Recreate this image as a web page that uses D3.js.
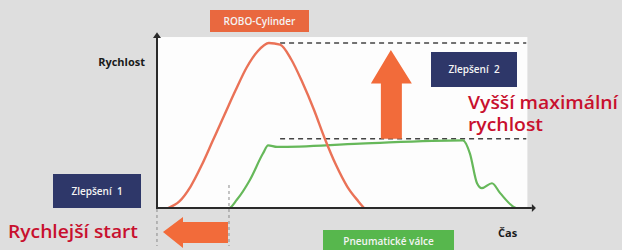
<!DOCTYPE html>
<html>
<head>
<meta charset="utf-8">
<script src="https://cdn.jsdelivr.net/npm/d3@7"></script>
<style>
  html, body { margin: 0; padding: 0; background: #dedede; }
  svg { display: block; }
</style>
</head>
<body>
<script>
// ROBO-Cylinder vs. pneumatic cylinder speed profile
const roboTime  = [3, 6, 9, 12, 15, 18, 21, 24, 27, 30, 33, 36, 39, 42, 45, 48, 51, 54, 55.5];
const roboSpeed = [0, 4, 13, 26, 41, 56, 71, 85, 95, 100, 99, 90, 76, 60, 42, 26, 13, 4, 0];

const pneuTime  = [2, 19.3, 21.4, 24.9, 28.4, 29.8, 32.2, 54.4, 82, 83.9, 85.8, 87.1, 89.8, 92, 95.4, 96.2];
const pneuSpeed = [0, 0, 5, 17, 33, 38, 37, 39, 41, 33, 15, 12, 15, 9, 1, 0];

const levels = [100, 42];           // dashed max-speed levels
const startTimes = [0.8, 19.3];     // start times compared by the left arrow

const width = 622;
const height = 250;

const svg = d3.select('body')
  .append('svg')
  .attr('width', width)
  .attr('height', height);

// scales
const x = d3.scaleLinear().domain([0, 100]).range([157, 530]);
const y = d3.scaleLinear().domain([0, 100]).range([208, 43]);

// white plot area
svg.append('rect')
  .attr('x', x(0))
  .attr('y', y(103.6))
  .attr('width', x(99.3) - x(0))
  .attr('height', y(0) - y(103.6))
  .attr('fill', '#fdfdfd');

// vertical dashed guides for start times
svg.selectAll('.guide')
  .data(startTimes)
  .enter()
  .append('line')
  .attr('x1', d => x(d) - (d < 1 ? 3 : 0))
  .attr('x2', d => x(d) - (d < 1 ? 3 : 0))
  .attr('y1', 185)
  .attr('y2', 246)
  .attr('stroke', '#8a8a8a')
  .attr('stroke-width', 1)
  .attr('stroke-dasharray', '3,3');

// dashed max-speed levels
svg.selectAll('.level')
  .data(levels)
  .enter()
  .append('line')
  .attr('x1', x(33))
  .attr('x2', x(99))
  .attr('y1', d => y(d))
  .attr('y2', d => y(d))
  .attr('stroke', '#444')
  .attr('stroke-width', 1.5)
  .attr('stroke-dasharray', '5,4');

// up arrow (higher max speed)
const ax = x(62.7);
const upArrow = [
  [ax, y(95.8)],
  [ax + 21, y(75.5)],
  [ax + 11, y(75.5)],
  [ax + 11, y(42)],
  [ax - 10, y(42)],
  [ax - 10, y(75.5)],
  [ax - 20, y(75.5)]
];
svg.append('path')
  .attr('d', d3.line()(upArrow) + 'Z')
  .attr('fill', '#f26b3a');

// left arrow (faster start)
const tip = x(startTimes[0]) + 3;
const tail = x(startTimes[1]) - 1;
const ay = 232;
const leftArrow = [
  [tip, ay],
  [183, ay - 15],
  [183, ay - 10],
  [tail, ay - 10],
  [tail, ay + 11],
  [183, ay + 11],
  [183, ay + 16]
];
svg.append('path')
  .attr('d', d3.line()(leftArrow) + 'Z')
  .attr('fill', '#f26b3a');

// curves
const line = d3.line()
  .x(d => x(d[0]))
  .y(d => y(d[1]))
  .curve(d3.curveMonotoneX);

svg.append('path')
  .datum(pneuTime.map((t, i) => [t, pneuSpeed[i]]))
  .attr('d', line)
  .attr('fill', 'none')
  .attr('stroke', '#66b85a')
  .attr('stroke-width', 2.2);

svg.append('path')
  .datum(roboTime.map((t, i) => [t, roboSpeed[i]]))
  .attr('d', line)
  .attr('fill', 'none')
  .attr('stroke', '#ea7257')
  .attr('stroke-width', 2.4);

// axes with arrowheads
svg.append('line')
  .attr('x1', x(0)).attr('x2', x(0))
  .attr('y1', y(0) + 1).attr('y2', y(103))
  .attr('stroke', '#2a2a2a')
  .attr('stroke-width', 2);
svg.append('path')
  .attr('d', `M${x(0) - 4},${y(103)} L${x(0)},${y(106.5)} L${x(0) + 4},${y(103)} Z`)
  .attr('fill', '#2a2a2a');

svg.append('line')
  .attr('x1', x(0) - 1).attr('x2', x(100.5))
  .attr('y1', y(0)).attr('y2', y(0))
  .attr('stroke', '#2a2a2a')
  .attr('stroke-width', 2);
svg.append('path')
  .attr('d', `M${x(100.5)},${y(0) - 4} L${x(101.6)},${y(0)} L${x(100.5)},${y(0) + 4} Z`)
  .attr('fill', '#2a2a2a');

// axis titles
svg.append('text')
  .attr('x', 145)
  .attr('y', 66)
  .attr('text-anchor', 'end')
  .attr('font-family', 'Open Sans')
  .attr('font-weight', 'bold')
  .attr('font-size', '11px')
  .attr('fill', '#1a1a1a')
  .text('Rychlost');

svg.append('text')
  .attr('x', 498)
  .attr('y', 237)
  .attr('font-family', 'Open Sans')
  .attr('font-weight', 'bold')
  .attr('font-size', '11px')
  .attr('fill', '#1a1a1a')
  .text('Čas');

// labelled boxes
const boxes = [
  { label: 'ROBO-Cylinder', x: 210, y: 10, w: 99, h: 22, fill: '#e9683f' },
  { label: 'Zlepšení  2', x: 431, y: 52, w: 86, h: 35, fill: '#2e3769' },
  { label: 'Zlepšení  1', x: 53, y: 174, w: 88, h: 34, fill: '#2e3769' },
  { label: 'Pneumatické válce', x: 323, y: 230, w: 131, h: 22, fill: '#57b74d' }
];

const box = svg.selectAll('.box')
  .data(boxes)
  .enter()
  .append('g');

box.append('rect')
  .attr('x', d => d.x)
  .attr('y', d => d.y)
  .attr('width', d => d.w)
  .attr('height', d => d.h)
  .attr('fill', d => d.fill);

box.append('text')
  .attr('x', d => d.x + d.w / 2)
  .attr('y', d => d.y + d.h / 2)
  .attr('dy', '.35em')
  .attr('text-anchor', 'middle')
  .attr('font-family', 'Open Sans')
  .attr('font-weight', '600')
  .attr('font-size', '10px')
  .attr('fill', '#f4f4f4')
  .style('white-space', 'pre')
  .text(d => d.label);

// red callouts
const callouts = [
  { text: 'Vyšší maximální', x: 468, y: 109, len: 150 },
  { text: 'rychlost', x: 468, y: 131, len: 75 },
  { text: 'Rychlejší start', x: 8, y: 238, len: 130 }
];

svg.selectAll('.callout')
  .data(callouts)
  .enter()
  .append('text')
  .attr('x', d => d.x)
  .attr('y', d => d.y)
  .attr('font-family', 'Open Sans')
  .attr('font-weight', '600')
  .attr('font-size', '18px')
  .attr('fill', '#c8102e')
  .attr('textLength', d => d.len)
  .attr('lengthAdjust', 'spacingAndGlyphs')
  .text(d => d.text);
</script>
</body>
</html>
